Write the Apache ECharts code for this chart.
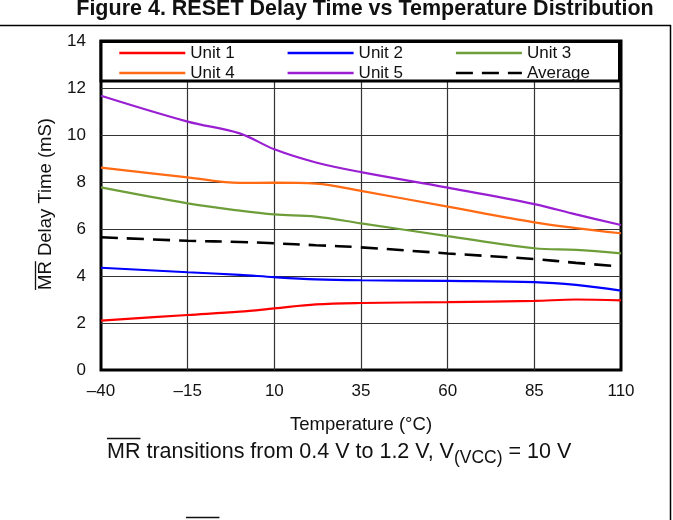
<!DOCTYPE html>
<html>
<head>
<meta charset="utf-8">
<script src="https://cdn.jsdelivr.net/npm/echarts@6/dist/echarts.min.js"></script>
<style>
html,body{margin:0;padding:0;background:#fff;}
#c{width:673px;height:520px;}
</style>
</head>
<body>
<div id="c"></div>
<script>
// ---- data ----
var temps = [-40, -15, 0, 10, 22, 35, 60, 85, 97, 110];
var unit1 = [2.10, 2.34, 2.48, 2.62, 2.79, 2.85, 2.89, 2.94, 3.00, 2.96];
var unit2 = [4.35, 4.16, 4.05, 3.95, 3.86, 3.82, 3.79, 3.74, 3.62, 3.38];
var unit3 = [7.77, 7.09, 6.78, 6.62, 6.53, 6.24, 5.70, 5.18, 5.11, 4.96];
var unit4 = [8.61, 8.20, 7.96, 7.97, 7.93, 7.62, 6.95, 6.28, 6.04, 5.82];
var unit5 = [11.67, 10.57, 10.07, 9.39, 8.83, 8.42, 7.76, 7.06, 6.62, 6.17];
var average = [5.65, 5.50, 5.45, 5.39, 5.31, 5.22, 4.96, 4.72, 4.56, 4.40];
var seriesNames = ['Unit 1', 'Unit 2', 'Unit 3', 'Unit 4', 'Unit 5', 'Average'];
var xTicks = [-40, -15, 10, 35, 60, 85, 110];
var yTicks = [0, 2, 4, 6, 8, 10, 12, 14];

var FONT = 'Liberation Sans, Arial, sans-serif';
var colors = ['#ff0000', '#0000ff', '#6e9e3a', '#ff6a13', '#9a1ed2', '#000000'];
var allVals = [unit1, unit2, unit3, unit4, unit5, average];

function pairs(vals) {
  return temps.map(function (t, i) { return [t, vals[i]]; });
}
function fmtTick(v) {
  return String(v).replace('-', '\u2013');
}
function measure(text, font) {
  var cv = document.createElement('canvas').getContext('2d');
  cv.font = font;
  return cv.measureText(text).width;
}

var series = seriesNames.map(function (name, i) {
  var isAvg = name === 'Average';
  return {
    name: name,
    type: 'line',
    data: pairs(allVals[i]),
    smooth: 0.35,
    symbol: 'none',
    z: isAvg ? 3 : 2,
    lineStyle: {
      color: colors[i],
      width: isAvg ? 2.6 : 2.2,
      type: isAvg ? [17, 9] : 'solid'
    },
    itemStyle: { color: colors[i] }
  };
});

var yLabelText = 'MR Delay Time (mS)';
var yFont = '18.5px ' + FONT;
var yW = measure(yLabelText, yFont);
var mrWy = measure('MR', yFont);
var capFont = '21.5px ' + FONT;
var mrWc = measure('MR', capFont);

var chart = echarts.init(document.getElementById('c'), null, { renderer: 'canvas' });
chart.setOption({
  animation: false,
  backgroundColor: '#ffffff',
  title: {
    text: 'Figure 4. RESET Delay Time vs Temperature Distribution',
    left: 360,
    textAlign: 'center',
    top: -7,
    textStyle: { fontFamily: FONT, fontWeight: 'bold', fontSize: 21.5, color: '#111' }
  },
  grid: {
    left: 101, right: 52, top: 41, bottom: 150,
    show: true, borderColor: '#000', borderWidth: 3, backgroundColor: 'transparent'
  },
  legend: {
    data: seriesNames,
    left: 118, top: 44, width: 510,
    orient: 'horizontal',
    itemWidth: 66, itemHeight: 18, itemGap: 2,
    padding: 0,
    itemStyle: { opacity: 0 },
    lineStyle: { width: 2.6 },
    textStyle: { fontFamily: FONT, fontSize: 17, color: '#111', width: 94, lineHeight: 18, padding: [0, 0, 0, 0] },
    z: 5
  },
  xAxis: {
    type: 'value', min: -40, max: 110, interval: 25,
    name: 'Temperature (\u00B0C)', nameLocation: 'middle', nameGap: 45,
    nameTextStyle: { fontFamily: FONT, fontSize: 18.5, color: '#111' },
    axisLine: { show: false },
    axisTick: { show: false },
    axisLabel: { margin: 13, fontFamily: FONT, fontSize: 17, color: '#111', formatter: fmtTick },
    splitLine: { show: true, showMinLine: false, showMaxLine: false, lineStyle: { color: '#333', width: 1.2 } }
  },
  yAxis: {
    type: 'value', min: 0, max: 14, interval: 2,
    axisLine: { show: false },
    axisTick: { show: false },
    axisLabel: { margin: 15, fontFamily: FONT, fontSize: 17, color: '#111' },
    splitLine: { show: true, showMinLine: false, showMaxLine: false, lineStyle: { color: '#333', width: 1.2 } }
  },
  series: series,
  graphic: [
    // figure frame
    { type: 'line', shape: { x1: 0, y1: 25.5, x2: 671, y2: 25.5 }, style: { stroke: '#000', lineWidth: 1.5 }, silent: true },
    { type: 'line', shape: { x1: 670.5, y1: 25, x2: 670.5, y2: 520 }, style: { stroke: '#000', lineWidth: 1.5 }, silent: true },
    // legend box
    { type: 'rect', shape: { x: 101, y: 41.5, width: 518.5, height: 39.5 }, style: { fill: '#fff', stroke: '#000', lineWidth: 3 }, z: 3, silent: true },
    // y axis name with overline on MR
    {
      type: 'group', x: 46, y: 204, rotation: Math.PI / 2, silent: true,
      children: [
        { type: 'text', style: { text: yLabelText, font: yFont, fill: '#111', align: 'center', verticalAlign: 'middle' } },
        { type: 'line', shape: { x1: -yW / 2, y1: -10.5, x2: -yW / 2 + mrWy, y2: -10.5 }, style: { stroke: '#111', lineWidth: 1.3 } }
      ]
    },
    // caption
    {
      type: 'group', x: 107, y: 452, silent: true,
      children: [
        {
          type: 'text',
          style: {
            text: 'MR transitions from 0.4 V to 1.2 V, V{s|(VCC)} = 10 V',
            font: capFont, fill: '#111', verticalAlign: 'middle', align: 'left',
            rich: { s: { fontFamily: FONT, fontSize: 17.5, fill: '#111', padding: [12, 0, 0, 0] } }
          }
        },
        { type: 'line', shape: { x1: 0, y1: -13.5, x2: mrWc, y2: -13.5 }, style: { stroke: '#111', lineWidth: 1.5 } }
      ]
    },
    // cut-off next caption line (only its overline is visible)
    {
      type: 'group', x: 186, y: 533, silent: true,
      children: [
        { type: 'text', style: { text: 'MR', font: capFont, fill: '#111', verticalAlign: 'middle', align: 'left' } },
        { type: 'line', shape: { x1: 0, y1: -15.5, x2: mrWc, y2: -15.5 }, style: { stroke: '#111', lineWidth: 1.5 } }
      ]
    }
  ]
});
</script>
</body>
</html>
